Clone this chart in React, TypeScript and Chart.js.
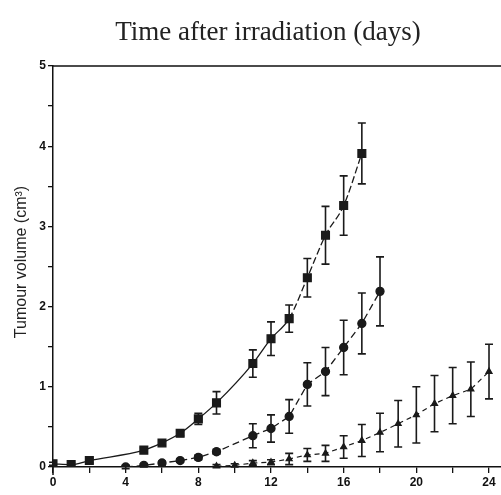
import React, { useEffect, useRef } from "react";
import { Chart, registerables } from "chart.js";
Chart.register(...registerables);

const TITLE = "Time after irradiation (days)";
const Y_TITLE = "Tumour volume (cm³)";

const daysA = [0, 1, 2, 5, 6, 7, 8, 9, 11, 12, 13, 14, 15, 16, 17];
const volA = [0.04, 0.03, 0.08, 0.21, 0.3, 0.42, 0.6, 0.8, 1.29, 1.6, 1.85, 2.36, 2.89, 3.26, 3.91];
const errA = [0.02, 0.02, 0.03, 0.03, 0.03, 0.03, 0.07, 0.14, 0.17, 0.21, 0.17, 0.24, 0.36, 0.37, 0.38];

const daysB = [4, 5, 6, 7, 8, 9, 11, 12, 13, 14, 15, 16, 17, 18];
const volB = [0.0, 0.02, 0.05, 0.08, 0.12, 0.19, 0.39, 0.48, 0.63, 1.03, 1.19, 1.49, 1.79, 2.19];
const errB = [0.02, 0.02, 0.02, 0.02, 0.03, 0.03, 0.15, 0.17, 0.21, 0.27, 0.3, 0.34, 0.38, 0.43];

const daysC = [9, 10, 11, 12, 13, 14, 15, 16, 17, 18, 19, 20, 21, 22, 23, 24];
const volC = [0.01, 0.02, 0.05, 0.06, 0.1, 0.15, 0.17, 0.25, 0.33, 0.43, 0.54, 0.65, 0.79, 0.89, 0.97, 1.19];
const errC = [0.02, 0.02, 0.03, 0.03, 0.07, 0.08, 0.1, 0.14, 0.2, 0.24, 0.29, 0.35, 0.35, 0.35, 0.34, 0.34];

const xTicks = [0, 2, 4, 6, 8, 10, 12, 14, 16, 18, 20, 22, 24];
const yTicks = [0, 0.5, 1, 1.5, 2, 2.5, 3, 3.5, 4, 4.5, 5];

const series: [number[], number[], number[]][] = [
  [daysA, volA, errA],
  [daysB, volB, errB],
  [daysC, volC, errC],
];

const errorBars = {
  id: "errorBars",
  beforeDatasetsDraw(chart: any) {
    const { ctx, scales } = chart;
    const x = scales.x;
    const y = scales.y;
    ctx.save();
    ctx.strokeStyle = "#1a1a1a";
    ctx.lineWidth = 1.6;
    series.forEach(([d, v, e]) => {
      d.forEach((day, i) => {
        const px = x.getPixelForValue(day);
        const top = y.getPixelForValue(v[i] + e[i]);
        const bot = y.getPixelForValue(v[i] - e[i]);
        ctx.beginPath();
        ctx.moveTo(px, top);
        ctx.lineTo(px, bot);
        ctx.moveTo(px - 4, top);
        ctx.lineTo(px + 4, top);
        ctx.moveTo(px - 4, bot);
        ctx.lineTo(px + 4, bot);
        ctx.stroke();
      });
    });
    ctx.restore();
  },
};

const decor = {
  id: "decor",
  afterDraw(chart: any) {
    const { ctx, chartArea } = chart;
    ctx.save();
    ctx.strokeStyle = "#111";
    ctx.lineWidth = 1.5;
    ctx.beginPath();
    ctx.moveTo(chartArea.left, chartArea.top);
    ctx.lineTo(chartArea.right, chartArea.top);
    ctx.moveTo(chartArea.left, chartArea.bottom);
    ctx.lineTo(chartArea.left, chartArea.bottom + 8);
    ctx.stroke();
    ctx.fillStyle = "#222";
    ctx.font = "27px 'Liberation Serif', serif";
    ctx.textAlign = "center";
    ctx.textBaseline = "middle";
    ctx.fillText(TITLE, 268, 33);
    ctx.translate(22, 262);
    ctx.rotate(-Math.PI / 2);
    ctx.font = "16px 'Liberation Sans', sans-serif";
    ctx.fillText(Y_TITLE, 0, 0);
    ctx.restore();
  },
};

export default function App() {
  const ref = useRef<HTMLCanvasElement>(null);
  useEffect(() => {
    if (!ref.current) return;
    const mk = (d: number[], v: number[]) => d.map((x, i) => ({ x, y: v[i] }));
    const chart = new Chart(ref.current, {
      type: "line",
      data: {
        datasets: [
          {
            data: mk(daysA, volA),
            borderColor: "#1a1a1a",
            backgroundColor: "#1a1a1a",
            borderWidth: 1.3,
            pointStyle: "rect",
            pointRadius: 5.5,
            cubicInterpolationMode: "monotone",
            segment: {
              borderDash: (c: any) => (c.p0.parsed.x >= 13 ? [7, 3] : undefined),
            },
          } as any,
          {
            data: mk(daysB, volB),
            borderColor: "#1a1a1a",
            backgroundColor: "#1a1a1a",
            borderWidth: 1.3,
            borderDash: [7, 4],
            pointStyle: "circle",
            pointRadius: 4,
          },
          {
            data: mk(daysC, volC),
            borderColor: "#1a1a1a",
            backgroundColor: "#1a1a1a",
            borderWidth: 1.2,
            borderDash: [5, 4],
            pointStyle: "triangle",
            pointRadius: 3.5,
          },
        ],
      },
      options: {
        responsive: false,
        animation: false,
        layout: { autoPadding: false, padding: { top: 66, left: 0, right: 0, bottom: 0 } },
        plugins: { legend: { display: false }, tooltip: { enabled: false } },
        scales: {
          x: {
            type: "linear",
            min: 0,
            max: 24.66,
            afterFit: (s: any) => {
              s.height = 28;
            },
            afterBuildTicks: (s: any) => {
              s.ticks = xTicks.map((value) => ({ value }));
            },
            ticks: {
              color: "#111",
              font: { size: 12, weight: "bold", family: "'Liberation Sans', sans-serif" },
              padding: 2,
              maxRotation: 0,
              autoSkip: false,
              callback: (v: any) => (Number(v) % 4 === 0 ? String(v) : ""),
            },
            grid: { drawOnChartArea: false, drawTicks: true, tickLength: 6, color: "#111", lineWidth: 1.3 },
            border: { display: true, color: "#111", width: 1.5 },
          },
          y: {
            type: "linear",
            min: 0,
            max: 5,
            afterFit: (s: any) => {
              s.width = 53;
            },
            afterBuildTicks: (s: any) => {
              s.ticks = yTicks.map((value) => ({ value }));
            },
            ticks: {
              color: "#111",
              font: { size: 12, weight: "bold", family: "'Liberation Sans', sans-serif" },
              padding: 2,
              autoSkip: false,
              callback: (v: any) => (Number.isInteger(Number(v)) ? String(v) : ""),
            },
            grid: { drawOnChartArea: false, drawTicks: true, tickLength: 5, color: "#111", lineWidth: 1.3 },
            border: { display: true, color: "#111", width: 1.5 },
          },
        },
      },
      plugins: [errorBars, decor],
    });
    return () => chart.destroy();
  }, []);
  return (
    <div style={{ position: "absolute", left: 0, top: 0, width: 501, height: 495, background: "#fff" }}>
      <canvas ref={ref} width={501} height={495} />
    </div>
  );
}
